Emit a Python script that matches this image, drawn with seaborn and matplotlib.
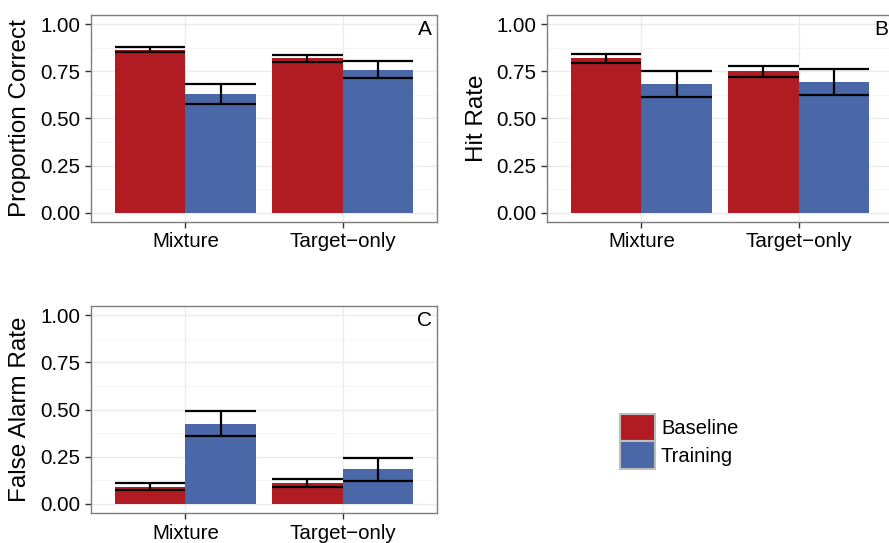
import numpy as np
import pandas as pd
import matplotlib
matplotlib.use("Agg")
import matplotlib.pyplot as plt
import seaborn as sns
from matplotlib.patches import Patch
from matplotlib.ticker import MultipleLocator

# values
conditions = ["Mixture", "Target\u2212only"]
phases = ["Baseline", "Training"]

prop_correct = [0.865, 0.82, 0.63, 0.758]      # Baseline Mix, Baseline Tgt, Training Mix, Training Tgt
prop_correct_se = [0.014, 0.019, 0.053, 0.045]

hit_rate = [0.82, 0.75, 0.685, 0.695]
hit_rate_se = [0.024, 0.028, 0.069, 0.069]

fa_rate = [0.09, 0.113, 0.425, 0.183]
fa_rate_se = [0.018, 0.021, 0.068, 0.06]

red = "#B01C22"
blue = "#4A67A7"

sns.set_theme(style="white")
plt.rcParams['font.family'] = ['Liberation Sans', 'DejaVu Sans']
plt.rcParams['text.color'] = "black"


def make_df(vals, ses):
    rows = []
    k = 0
    for p in phases:
        for c in conditions:
            rows.append({"condition": c, "phase": p, "value": vals[k], "se": ses[k]})
            k += 1
    return pd.DataFrame(rows)


def draw_panel(ax, vals, ses, ylabel, letter, labelpad):
    df = make_df(vals, ses)
    sns.barplot(data=df, x="condition", y="value", hue="phase", order=conditions,
                hue_order=phases, palette=[red, blue], width=0.9, errorbar=None,
                legend=False, ax=ax, saturation=1, edgecolor="none", zorder=2)
    # error bars at each bar centre, caps as wide as the bar
    for cont, p in zip(ax.containers, phases):
        sub = df[df["phase"] == p].set_index("condition").loc[conditions]
        for bar, (m, s) in zip(cont, zip(sub["value"], sub["se"])):
            x0 = bar.get_x()
            w = bar.get_width()
            xc = x0 + w / 2
            ax.vlines(xc, m - s, m + s, color="black", lw=1.6, zorder=3)
            ax.hlines([m - s, m + s], x0, x0 + w, color="black", lw=1.6, zorder=3)

    ax.set_xlim(-0.6, 1.6)
    ax.set_ylim(-0.05, 1.05)
    ax.yaxis.set_major_locator(MultipleLocator(0.25))
    ax.yaxis.set_minor_locator(MultipleLocator(0.125))
    ax.set_yticklabels([f"{t:.2f}" for t in ax.get_yticks()])
    ax.set_ylim(-0.05, 1.05)
    ax.grid(True, which="major", color="#EBEBEB", lw=1.0, zorder=0)
    ax.grid(True, which="minor", axis="y", color="#F4F4F4", lw=0.6, zorder=0)
    ax.set_axisbelow(True)
    ax.set_xlabel("")
    ax.set_ylabel(ylabel, fontsize=17.5, labelpad=labelpad, color="black")
    ax.tick_params(axis="both", which="major", labelsize=14.8, length=4.5, width=1.0,
                   color="#333333", labelcolor="black", pad=3, left=True, bottom=True,
                   direction="out")
    ax.tick_params(axis="y", which="minor", length=0)
    for sp in ax.spines.values():
        sp.set_color("#7F7F7F")
        sp.set_linewidth(1.0)
    ax.text(0.985, 0.975, letter, transform=ax.transAxes, ha="right", va="top",
            fontsize=15, color="black")


fig = plt.figure(figsize=(8.89, 5.43), dpi=100)
axA = fig.add_axes([0.1024, 0.5912, 0.3892, 0.3812])
axB = fig.add_axes([0.6153, 0.5912, 0.3892, 0.3812])
axC = fig.add_axes([0.1024, 0.0547, 0.3892, 0.3823])

draw_panel(axA, prop_correct, prop_correct_se, "Proportion Correct", "A", 7)
draw_panel(axB, hit_rate, hit_rate_se, "Hit Rate", "B", 6)
draw_panel(axC, fa_rate, fa_rate_se, "False Alarm Rate", "C", 7)

handles = [Patch(facecolor=red, edgecolor="#BDBDBD", lw=1.5),
           Patch(facecolor=blue, edgecolor="#BDBDBD", lw=1.5)]
fig.legend(handles, phases, loc="center left", bbox_to_anchor=(0.697, 0.187),
           frameon=False, fontsize=14.5, handlelength=1.75, handleheight=1.75,
           handletextpad=0.3, labelspacing=0.0, borderpad=0, borderaxespad=0,
           labelcolor="black")

fig.savefig("out.png", dpi=100)
